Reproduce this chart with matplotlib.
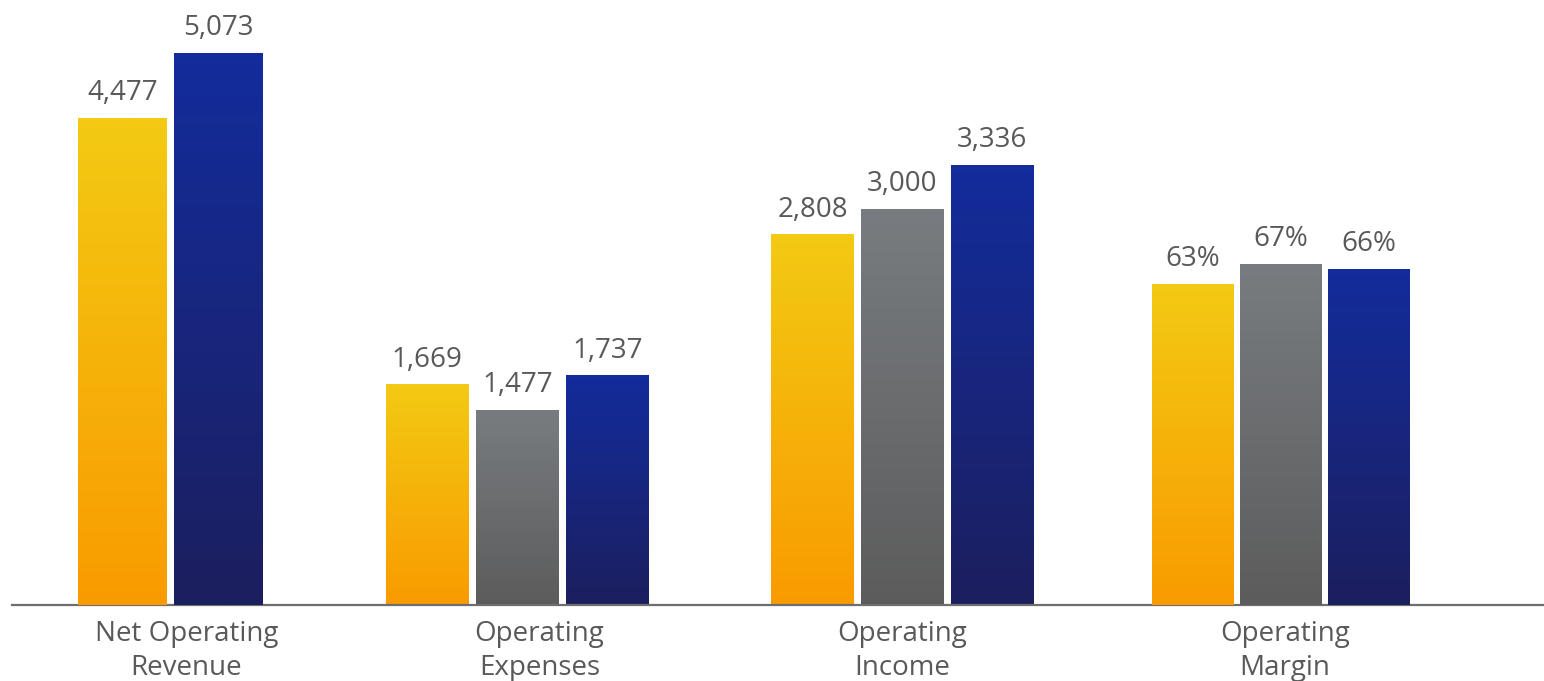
import numpy as np
import matplotlib
matplotlib.use("Agg")
import matplotlib.pyplot as plt
from matplotlib.colors import LinearSegmentedColormap

# ---------------- data ----------------
categories = ["Net Operating\nRevenue", "Operating\nExpenses", "Operating\nIncome", "Operating\nMargin"]
series_names = ["Prior", "Mid", "Current"]
yellow_vals = [4477, 1669, 2808, 63]
gray_vals = [None, 1477, 3000, 67]
blue_vals = [5073, 1737, 3336, 66]
value_fmt = ["{:,.0f}", "{:,.0f}", "{:,.0f}", "{:.0f}%"]

# ---------------- style / layout ----------------
W, H = 1544, 681
BASE = 605  # baseline pixel row from top
grads = {
    "yellow": ("#F99B00", "#F3CA14"),
    "gray": ("#5C5C5C", "#787C80"),
    "blue": ("#1C1F5E", "#132C9C"),
}
# per group: (bar centre x of group, bar width, step between bars, label x, axis index)
group_layout = [
    (170.5, 89, 96.5, 186.5, 1),
    (517.5, 83, 90.25, 539.5, 0),
    (902.5, 83, 90.0, 902.5, 0),
    (1281.0, 82, 88.25, 1285.0, 2),
]
txt_color = "#595959"
FONT = "Open Sans"

fig = plt.figure(figsize=(W / 100, H / 100), dpi=100)
ax = fig.add_axes([12 / W, (H - BASE) / H, (W - 12) / W, BASE / H])
ax1 = ax.twinx()
ax4 = ax.twinx()
axes = [ax, ax1, ax4]
ylims = [4587, 5566, 118.9]


def grad_bar(a, xc, w, h, key):
    bottom, top = grads[key]
    cmap = LinearSegmentedColormap.from_list("g", [bottom, top])
    g = np.linspace(0, 1, 256).reshape(-1, 1)
    a.imshow(g, extent=(xc - w / 2, xc + w / 2, 0, h), origin="lower",
             cmap=cmap, aspect="auto", zorder=2, interpolation="bilinear")


for gi, (cx, bw, step, lx, ai) in enumerate(group_layout):
    a = axes[ai]
    vals = [("yellow", yellow_vals[gi]), ("gray", gray_vals[gi]), ("blue", blue_vals[gi])]
    present = [(k, v) for k, v in vals if v is not None]
    n = len(present)
    for j, (k, v) in enumerate(present):
        xc = cx + (j - (n - 1) / 2) * step
        grad_bar(a, xc, bw, v, k)
        a.annotate(value_fmt[gi].format(v), (xc, v), xytext=(0, 8),
                   textcoords="offset points", ha="center", va="bottom",
                   fontsize=20, color=txt_color, family=FONT)

for a, yl in zip(axes, ylims):
    a.set_xlim(12, W)
    a.set_ylim(0, yl)
    a.set_yticks([])
    for s in ["top", "right", "left"]:
        a.spines[s].set_visible(False)
    a.spines["bottom"].set_visible(False)
    a.patch.set_visible(False)

ax.spines["bottom"].set_visible(True)
ax.spines["bottom"].set_color("#6E6E6E")
ax.spines["bottom"].set_linewidth(1.6)
ax.spines["bottom"].set_zorder(5)
ax.set_xticks([g[3] for g in group_layout])
ax.set_xticklabels(categories, fontsize=20, color=txt_color, family=FONT, linespacing=1.25)
ax.tick_params(axis="x", length=0, pad=11)

fig.savefig("out.png", dpi=100, facecolor="white")
